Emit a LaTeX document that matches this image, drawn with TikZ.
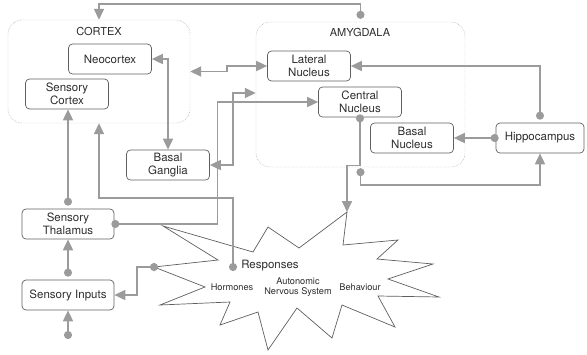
\documentclass[tikz,border=0pt]{standalone}
\usepackage{fontspec}
\setmainfont{TeX Gyre Heros}
\usetikzlibrary{arrows.meta, calc}
\definecolor{wiregray}{RGB}{155,155,155}
\definecolor{boxgray}{RGB}{95,95,95}
\definecolor{regiongray}{RGB}{165,165,165}
\definecolor{textgray}{RGB}{45,45,45}

\begin{document}
\begin{tikzpicture}[x=1pt, y=-1pt,
  region/.style={draw=regiongray, dash pattern=on 0.7pt off 0.9pt, rounded corners=14pt, inner sep=0pt},
  part/.style={draw=boxgray, line width=0.7pt, rounded corners=4pt, minimum width=83pt, minimum height=30pt, align=center, font=\fontsize{11.5}{13.5}\selectfont, text=textgray, inner sep=1pt},
  caption/.style={font=\fontsize{11}{13}\selectfont, text=textgray},
  small/.style={font=\fontsize{9.2}{10.5}\selectfont, text=textgray, align=center, inner sep=1pt},
  wire/.style={draw=wiregray, line width=1.7pt},
  dotarr/.style={wire, {Circle[length=8pt]}-{Triangle[length=11pt,width=10pt]}},
  biarr/.style={wire, {Triangle[length=11pt,width=10pt]}-{Triangle[length=11pt,width=10pt]}},
]
  \useasboundingbox (0,0) rectangle (587,354);

  % Regions
  \node[region, minimum width=182pt, minimum height=103pt] (cortex) at (99,71.5) {};
  \node[caption] (cortexlbl) at (99,31) {CORTEX};
  \node[region, minimum width=209pt, minimum height=145pt] (amyg) at (360.5,94.5) {};
  \node[caption] (amyglbl) at (360,32) {AMYGDALA};

  % Cortex parts
  \node[part] (neo) at (110,59) {Neocortex};
  \node[part] (scortex) at (67,94) {Sensory\\Cortex};

  % Amygdala parts
  \node[part] (lat) at (309,66) {Lateral\\Nucleus};
  \node[part] (cen) at (360,102) {Central\\Nucleus};
  \node[part] (bnuc) at (412,138) {Basal\\Nucleus};

  % Other parts
  \node[part, minimum width=88pt] (hip) at (540,138) {Hippocampus};
  \node[part] (bgang) at (168,165) {Basal\\Ganglia};
  \node[part, minimum width=92pt] (thal) at (68,224) {Sensory\\Thalamus};
  \node[part, minimum width=92pt] (inputs) at (68,295) {Sensory Inputs};

  % Responses burst
  \draw[boxgray, line width=0.7pt] (395,327) -- (378,296) -- (439,297) -- (388,279) -- (433,264)
    -- (377,259) -- (398,240) -- (343,245) -- (347,212) -- (299,248) -- (268,227) -- (253,252)
    -- (163,226) -- (218,260) -- (154,267) -- (205,287) -- (160,305) -- (230,302) -- (220,325)
    -- (258,312) -- (268,350) -- (297,308) -- (332,338) -- (342,305) -- cycle;
  \node[font=\fontsize{11.5}{13}\selectfont, text=textgray] (resp) at (270,266) {Responses};
  \node[small] (horm) at (232,287) {Hormones};
  \node[small] (ans) at (298,287) {Autonomic\\Nervous System};
  \node[small] (beh) at (360,287) {Behaviour};
  \coordinate (bursttop) at (347,212);
  \coordinate (burstleft) at (158,267);
  \coordinate (hormdot) at (233,271);
  \coordinate (stim) at (68,339);

  % Amygdala to cortex
  \draw[dotarr] ([yshift=3pt]amyg.north) -- ++(0,-15) -| (cortex.north);
  \draw[biarr] (cortex.east) -- ++(37,0) |- (lat.west);
  \draw[biarr] (neo.east) -| (bgang.north);
  \draw[biarr] (bgang.east) -- ++(23,0) |- ([yshift=1.5pt]amyg.west);

  % Hippocampus
  \draw[dotarr] ([yshift=3pt]hip.north) |- (lat.east);
  \draw[dotarr] ([xshift=3pt]hip.west) -- (bnuc.east);
  \draw[dotarr] ([yshift=-1pt]amyg.south) -- ++(0,17) -| (hip.south);

  % Outputs
  \draw[dotarr] ([yshift=3pt]cen.south) -- ++(0,51) -| (bursttop);
  \draw[dotarr] (hormdot) -- ++(0,-73) -| (cortex.south);

  % Sensory path
  \draw[dotarr] ([xshift=-3pt]thal.east) -- ++(106,0) |- (cen.west);
  \draw[dotarr] ([yshift=3pt]thal.north) -- (thal.north |- scortex.south);
  \draw[dotarr] ([yshift=3pt]inputs.north) -- (thal.south);
  \draw[dotarr] (burstleft) -- ++(-21,0) |- (inputs.east);
  \draw[dotarr] (stim) -- (inputs.south);
\end{tikzpicture}
\end{document}
